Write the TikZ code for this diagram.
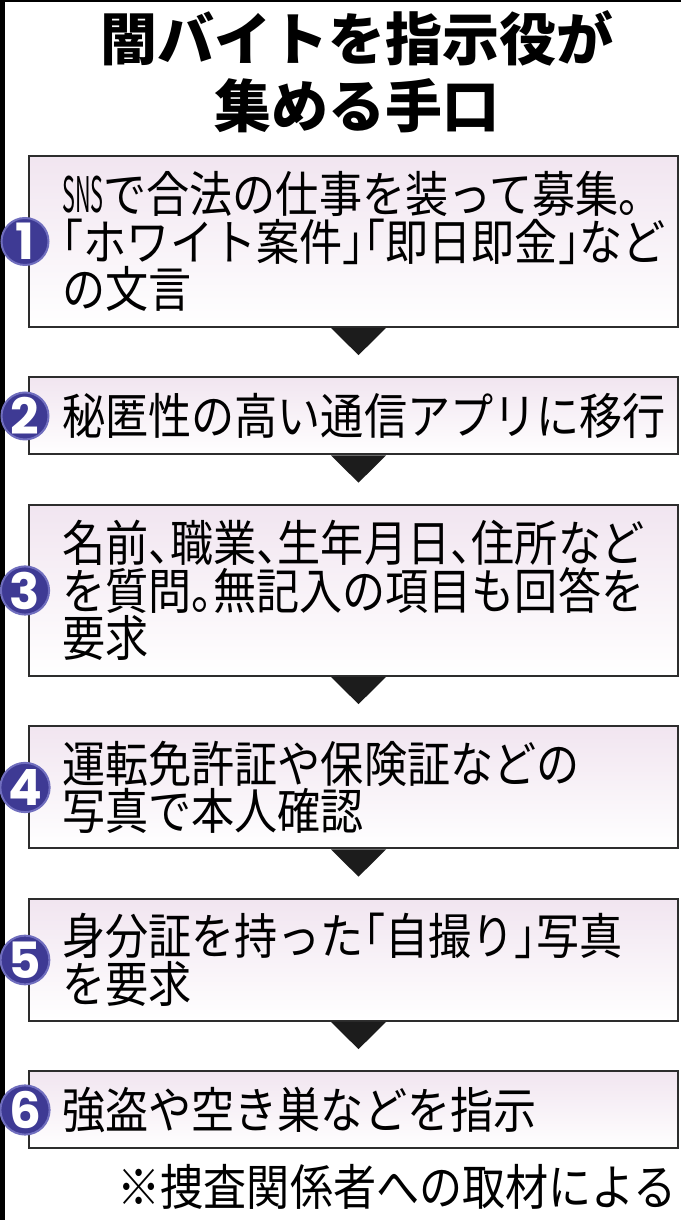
\documentclass[tikz,border=0pt]{standalone}
\usepackage{fontspec}
\usepackage{graphicx}
\setmainfont{Noto Sans CJK JP}
\newfontfamily\bodyfont[FakeStretch=0.88,RawFeature=+halt]{Noto Sans CJK JP}
\newfontfamily\headfont{Noto Sans CJK JP}
\newfontfamily\numfont{Poppins}
\usetikzlibrary{positioning,calc}
\definecolor{NumClr}{RGB}{62,58,148}
\definecolor{NumRim}{RGB}{112,110,190}
\definecolor{BoxTop}{RGB}{241,229,240}
\definecolor{FrameClr}{RGB}{45,45,45}
\definecolor{ArrowClr}{RGB}{28,28,28}
\newcommand{\nar}[1]{\scalebox{0.5}[1]{#1}}

\begin{document}
\begin{tikzpicture}[x=1pt,y=1pt,
  stepbox/.style={draw=FrameClr,line width=2pt,top color=BoxTop,bottom color=white,minimum width=649pt,inner sep=0pt},
  steptxt/.style={font=\bodyfont\fontsize{49}{47.5}\selectfont,align=left,inner sep=0pt},
  stepnum/.style={circle,fill=NumClr,draw=NumRim,line width=2pt,minimum size=47pt,inner sep=0pt,text=white,font=\numfont\bfseries\fontsize{50}{50}\selectfont},
  node distance=48.5pt]
\useasboundingbox (0,0) rectangle (681,1220);
\fill[black] (0,0) rectangle (4.5,1220);
\fill[black] (0,1218) rectangle (681,1220);

\node[font=\headfont\bfseries\fontsize{57}{67}\selectfont,align=center] (title) at (357,1148) {闇バイトを指示役が\\集める手口};

\node[stepbox,minimum height=171pt,anchor=north west] (b1) at (28,1065) {};
\node[stepbox,minimum height=77pt,below=of b1] (b2) {};
\node[stepbox,minimum height=171pt,below=of b2] (b3) {};
\node[stepbox,minimum height=122pt,below=of b3] (b4) {};
\node[stepbox,minimum height=122pt,below=of b4] (b5) {};
\node[stepbox,minimum height=77pt,below=of b5] (b6) {};

\foreach \a/\b in {b1/b2,b2/b3,b3/b4,b4/b5,b5/b6}
  \fill[ArrowClr] ([xshift=-22.5pt]\a.south) -- ([xshift=32.5pt]\a.south) -- ($(\a.south)!0.56!(\b.north)+(5pt,0)$) -- cycle;

\node[steptxt,right=34pt of b1.west] (t1) {\nar{SNS}で合法の仕事を装って募集。\\「ホワイト案件」「即日即金」など\\の文言};
\node[steptxt,right=34pt of b2.west] (t2) {秘匿性の高い通信アプリに移行};
\node[steptxt,right=34pt of b3.west] (t3) {名前、職業、生年月日、住所など\\を質問。無記入の項目も回答を\\要求};
\node[steptxt,right=34pt of b4.west] (t4) {運転免許証や保険証などの\\写真で本人確認};
\node[steptxt,right=34pt of b5.west] (t5) {身分証を持った「自撮り」写真\\を要求};
\node[steptxt,right=34pt of b6.west] (t6) {強盗や空き巣などを指示};

\node[stepnum] (n1) at ([xshift=-3pt]b1.west) {1};
\node[stepnum] (n2) at ([xshift=-3pt]b2.west) {2};
\node[stepnum] (n3) at ([xshift=-3pt]b3.west) {3};
\node[stepnum] (n4) at ([xshift=-3pt]b4.west) {4};
\node[stepnum] (n5) at ([xshift=-3pt]b5.west) {5};
\node[stepnum] (n6) at ([xshift=-3pt]b6.west) {6};

\node[font=\bodyfont\fontsize{49}{49}\selectfont,anchor=east,inner sep=0pt] (src) at (677,33) {※捜査関係者への取材による};
\end{tikzpicture}
\end{document}
